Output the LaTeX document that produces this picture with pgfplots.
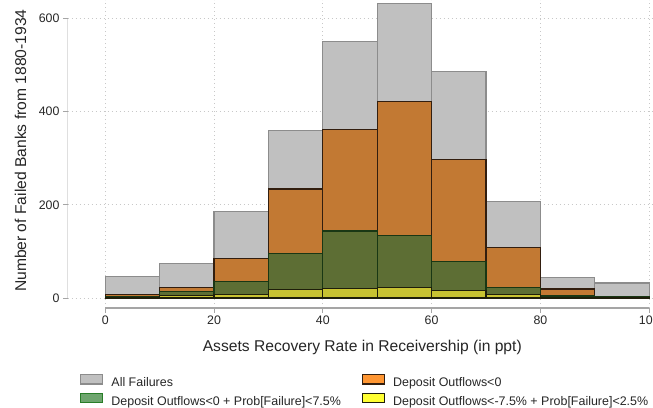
\documentclass[border=0pt]{standalone}
\usepackage{pgfplots}
\pgfplotsset{compat=1.18}
\usepackage{fontspec}
\setmainfont{Liberation Sans}
\definecolor{grayfill}{RGB}{192,192,192}
\definecolor{grayedge}{RGB}{140,140,140}
\definecolor{orangefill}{RGB}{194,121,51}
\definecolor{orangeedge}{RGB}{50,30,15}
\definecolor{greenfill}{RGB}{93,110,52}
\definecolor{greenedge}{RGB}{25,55,20}
\definecolor{yellowfill}{RGB}{200,195,50}
\definecolor{yellowedge}{RGB}{30,30,10}
\definecolor{lgorange}{RGB}{255,150,50}
\definecolor{lggreen}{RGB}{110,165,110}
\definecolor{lggreenedge}{RGB}{40,125,40}
\definecolor{lgyellow}{RGB}{255,255,50}
\definecolor{axisgray}{RGB}{165,165,165}
\definecolor{gridgray}{RGB}{200,200,200}
\begin{document}
\begin{tikzpicture}
\begin{axis}[
  scale only axis,
  width=585.3bp, height=308bp,
  xmin=-6.9, xmax=100.7,
  ymin=-21.45, ymax=639.2,
  axis x line=bottom, axis y line=left,
  axis line style={draw=none},
  xtick={0,20,40,60,80,100},
  ytick={0,200,400,600},
  tick align=outside,
  major tick length=4.7bp,
  tick style={axisgray, line width=1bp},
  grid=major,
  grid style={gridgray, line width=0.8bp, dash pattern=on 0.8bp off 3.2bp},
  /pgf/number format/assume math mode=true,
  ticklabel style={font=\fontsize{12.4}{14}\selectfont, text=black!85},
  label style={font=\fontsize{15.7}{18}\selectfont, text=black!85},
  xlabel={Assets Recovery Rate in Receivership (in ppt)},
  ylabel={Number of Failed Banks from 1880-1934},
  xlabel style={at={(axis description cs:0.5033,-0.1419)}, anchor=base},
  ylabel style={at={(axis description cs:-0.0712,0.5107)}, anchor=base, rotate=0},
  legend columns=2,
  legend style={draw=none, fill=none, at={(axis description cs:0.016,-0.2078)}, anchor=north west,
    font=\fontsize{12.5}{14}\selectfont,
    nodes={inner sep=0pt, text height=9bp, text depth=3bp, text=black!85},
    row sep=3bp,
    /tikz/every odd column/.append style={column sep=8bp},
    /tikz/every even column/.append style={column sep=21bp}},
  legend image code/.code={\draw[#1] (0bp,-0.3bp) rectangle (22bp,9bp);},
  legend cell align=left,
]
\addlegendimage{fill=grayfill, draw=grayedge, line width=1.2bp}
\addlegendentry{All Failures}
\addlegendimage{fill=lgorange, draw=orangeedge, line width=1.2bp}
\addlegendentry{Deposit Outflows<0}
\addlegendimage{fill=lggreen, draw=lggreenedge, line width=1.2bp}
\addlegendentry{Deposit Outflows<0 + Prob[Failure]<7.5\%}
\addlegendimage{fill=lgyellow, draw=yellowedge, line width=1.2bp}
\addlegendentry{Deposit Outflows<-7.5\% + Prob[Failure]<2.5\%}

\addplot[ybar interval, forget plot, fill=grayfill, draw=grayedge, line width=1.2bp] coordinates {
(0,46) (10,74) (20,186) (30,359) (40,550) (50,632) (60,486) (70,207) (80,44) (90,32) (100,32)};
\addplot[ybar interval, forget plot, fill=orangefill, draw=orangeedge, line width=1.3bp] coordinates {
(0,7) (10,23) (20,85) (30,234) (40,361) (50,421) (60,297) (70,109) (80,19) (90,2) (100,2)};
\addplot[ybar interval, forget plot, fill=greenfill, draw=greenedge, line width=1.3bp] coordinates {
(0,2) (10,14) (20,36) (30,96) (40,144) (50,134) (60,79) (70,22) (80,4) (90,2) (100,2)};
\addplot[ybar interval, forget plot, fill=yellowfill, draw=yellowedge, line width=1.3bp] coordinates {
(0,1) (10,5) (20,7) (30,18) (40,20) (50,22) (60,16) (70,8) (80,1) (90,0.5) (100,0.5)};

\draw[axisgray, line width=1.2bp] (axis cs:-6.9,0) -- (axis cs:-6.9,600);
\draw[axisgray, line width=1.2bp] (axis cs:0,-21.45) -- (axis cs:100,-21.45);
\end{axis}
\pgfresetboundingbox
\path (current axis.south west) ++(-67.7bp,-100bp) rectangle (current axis.north east);
\end{tikzpicture}
\end{document}
